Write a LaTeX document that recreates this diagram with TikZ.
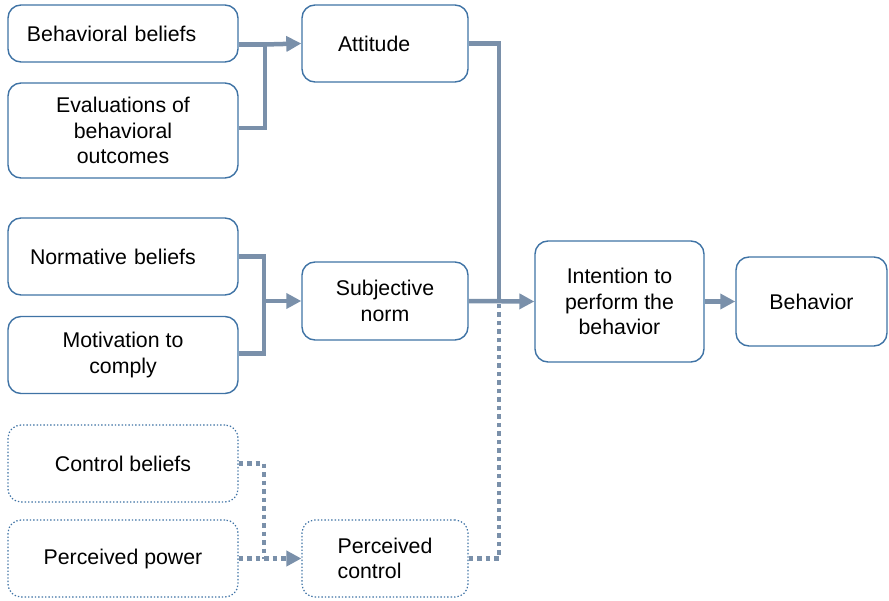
\documentclass[tikz,border=0pt]{standalone}
\usepackage{fontspec}
\setmainfont{Liberation Sans}
\usetikzlibrary{arrows.meta}
\definecolor{boxblue}{HTML}{3F73A5}
\definecolor{linkgray}{HTML}{7A90AA}
\tikzset{
  box/.style={draw=boxblue, line width=1.4pt, rounded corners=13pt, align=center,
    inner sep=0pt, font=\fontsize{21.3}{25.5}\selectfont},
  dotbox/.style={box, dotted, line width=1.2pt},
  link/.style={draw=linkgray, line width=4.5pt},
  arrowlink/.style={link, -{Triangle[length=15pt,width=15pt]}},
  dotlink/.style={link, dash pattern=on 4.5pt off 4pt},
  dotarrow/.style={dotlink, -{Triangle[length=15pt,width=15pt]}},
}
\begin{document}
\begin{tikzpicture}[x=1pt, y=-1pt]
  \useasboundingbox (0,0) rectangle (889,601);

  % beliefs on the left
  \node[box, minimum width=230pt, minimum height=57pt, align=left, inner xsep=19pt, text width=192pt] (bb) at (123,33.5) {Behavioral beliefs};
  \node[box, minimum width=230pt, minimum height=95pt] (ev) at (123,130.5) {Evaluations of\\behavioral\\outcomes};
  \node[box, minimum width=230pt, minimum height=77pt, align=left, inner xsep=22pt, text width=186pt] (nb) at (123,256.5) {Normative beliefs};
  \node[box, minimum width=230pt, minimum height=77pt] (mc) at (123,355) {Motivation to\\comply};
  \node[dotbox, minimum width=230pt, minimum height=77pt] (cb) at (123,463.5) {Control beliefs};
  \node[dotbox, minimum width=230pt, minimum height=77pt] (pp) at (123,558.5) {Perceived power};

  % middle column
  \node[box, minimum width=166pt, minimum height=77pt, align=left, inner xsep=36pt, text width=94pt] (att) at (385,43.5) {Attitude};
  \node[box, minimum width=166pt, minimum height=78pt] (sn) at (385,301) {Subjective\\norm};
  \node[dotbox, minimum width=166pt, minimum height=77pt, align=left] (pc) at (385,558.5) {Perceived\\control};

  % right
  \node[box, minimum width=169pt, minimum height=121pt] (int) at (619.5,301.5) {Intention to\\perform the\\behavior};
  \node[box, minimum width=151pt, minimum height=89pt] (beh) at (811.5,301.5) {Behavior};

  % junctions
  \coordinate (j1) at (265,44.5);
  \coordinate (j2) at (264,301);
  \coordinate (j3) at (499,301);
  \coordinate (j4) at (264,558.5);

  % connectors
  \draw[link] ([yshift=-11pt]bb.east) -- (j1);
  \draw[link] ([yshift=2.5pt]ev.east) -| (j1);
  \draw[arrowlink] (j1) -- (att.west);

  \draw[link] (nb.east) -| (j2);
  \draw[link] ([yshift=1.5pt]mc.east) -| (j2);
  \draw[arrowlink] (j2) -- (sn.west);

  \draw[dotlink] (cb.east) -| (j4);
  \draw[dotarrow] (pp.east) -- (pc.west);

  \draw[link] (att.east) -| (j3);
  \draw[dotlink] (pc.east) -| (j3);
  \draw[arrowlink] (sn.east) -- (int.west);
  \draw[arrowlink] (int.east) -- (beh.west);
\end{tikzpicture}
\end{document}
